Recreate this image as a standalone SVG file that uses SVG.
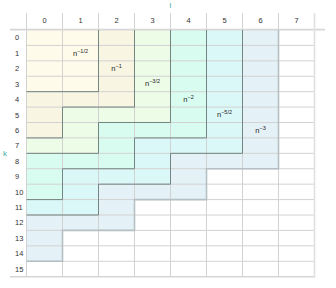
<svg xmlns="http://www.w3.org/2000/svg" width="336" height="288" viewBox="0 0 336 288">
<style>
.lab{font-family:"Liberation Sans",Arial,sans-serif;font-size:7.5px;fill:#333;text-anchor:middle}
.rl{font-family:"Liberation Sans",Arial,sans-serif;font-size:7.5px;fill:#333;text-anchor:start}
.ax{font-family:"Liberation Sans",Arial,sans-serif;font-size:8px;fill:#3fa8a0;text-anchor:middle}
.reg{font-family:"Liberation Sans",Arial,sans-serif;font-size:7.5px;fill:#222;text-anchor:middle}
.sup{font-size:5.5px}
.grid{stroke:#d2d2d2;stroke-width:1;fill:none}
.bd{stroke:#748582;stroke-width:1;fill:none}
.bdf{stroke:#b4c0c4;stroke-width:1.6;fill:none}
</style>
<rect width="336" height="288" fill="#fff"/>
<g id="regions">
<g id="rF"><polygon points="26.5,30 278.5,30 278.5,168.75 206.5,168.75 206.5,199.58 134.5,199.58 134.5,230.42 62.5,230.42 62.5,261.25 26.5,261.25" fill="#e4f1f6"/></g>
<g id="rE"><polygon points="26.5,30 242.5,30 242.5,153.33 170.5,153.33 170.5,184.17 98.5,184.17 98.5,215 26.5,215" fill="#dbf8f8"/></g>
<g id="rD"><polygon points="26.5,30 206.5,30 206.5,137.92 134.5,137.92 134.5,168.75 62.5,168.75 62.5,199.58 26.5,199.58" fill="#d9fcf0"/></g>
<g id="rC"><polygon points="26.5,30 170.5,30 170.5,122.5 98.5,122.5 98.5,153.33 26.5,153.33" fill="#ecfce7"/></g>
<g id="rB"><polygon points="26.5,30 134.5,30 134.5,107.08 62.5,107.08 62.5,137.92 26.5,137.92" fill="#f8f5e2"/></g>
<g id="rA"><rect x="26.5" y="30" width="72" height="61.67" fill="#fffbea"/></g>
</g>
<g id="grid">
<path class="grid" d="M26.5,13.3V276.7M62.5,13.3V276.7M98.5,13.3V276.7M134.5,13.3V276.7M170.5,13.3V276.7M206.5,13.3V276.7M242.5,13.3V276.7M278.5,13.3V276.7"/>
<path class="grid" d="M26.5,45.42H314.5M26.5,60.83H314.5M26.5,76.25H314.5M26.5,91.67H314.5M26.5,107.08H314.5M26.5,122.5H314.5M26.5,137.92H314.5M26.5,153.33H314.5M26.5,168.75H314.5M26.5,184.17H314.5M26.5,199.58H314.5M26.5,215H314.5M26.5,230.42H314.5M26.5,245.83H314.5M26.5,261.25H314.5"/>
<path d="M10,29.6H325" stroke="#d6d6d6" stroke-width="1.6" fill="none"/>
<path d="M10,276.7H314.5" stroke="#d6d6d6" stroke-width="1.4" fill="none"/>
<path d="M314.5,13.3V277.4" stroke="#e0e0e0" stroke-width="1.6" fill="none"/>
</g>
<g id="connectors">
<polyline class="bdf" points="278.5,30 278.5,168.75 206.5,168.75 206.5,199.58 134.5,199.58 134.5,230.42 62.5,230.42 62.5,261.25 26.5,261.25"/>
<polyline class="bd" points="242.5,30 242.5,153.33 170.5,153.33 170.5,184.17 98.5,184.17 98.5,215 26.5,215"/>
<polyline class="bd" points="206.5,30 206.5,137.92 134.5,137.92 134.5,168.75 62.5,168.75 62.5,199.58 26.5,199.58"/>
<polyline class="bd" points="170.5,30 170.5,122.5 98.5,122.5 98.5,153.33 26.5,153.33"/>
<polyline class="bd" points="134.5,30 134.5,107.08 62.5,107.08 62.5,137.92 26.5,137.92"/>
<polyline class="bd" points="98.5,30 98.5,91.67 26.5,91.67"/>
</g>
<g id="colheaders">
<text class="lab" x="44.5" y="23.3">0</text>
<text class="lab" x="80.5" y="23.3">1</text>
<text class="lab" x="116.5" y="23.3">2</text>
<text class="lab" x="152.5" y="23.3">3</text>
<text class="lab" x="188.5" y="23.3">4</text>
<text class="lab" x="224.5" y="23.3">5</text>
<text class="lab" x="260.5" y="23.3">6</text>
<text class="lab" x="296.5" y="23.3">7</text>
</g>
<g id="rowheaders">
<text class="rl" x="15" y="40.4">0</text>
<text class="rl" x="15" y="55.8">1</text>
<text class="rl" x="15" y="71.2">2</text>
<text class="rl" x="15" y="86.7">3</text>
<text class="rl" x="15" y="102.1">4</text>
<text class="rl" x="15" y="117.5">5</text>
<text class="rl" x="15" y="132.9">6</text>
<text class="rl" x="15" y="148.3">7</text>
<text class="rl" x="15" y="163.8">8</text>
<text class="rl" x="15" y="179.2">9</text>
<text class="rl" x="15" y="194.6">10</text>
<text class="rl" x="15" y="210">11</text>
<text class="rl" x="15" y="225.4">12</text>
<text class="rl" x="15" y="240.8">13</text>
<text class="rl" x="15" y="256.3">14</text>
<text class="rl" x="15" y="271.7">15</text>
</g>
<g id="axes">
<text class="ax" x="170.5" y="8">l</text>
<text class="ax" x="5" y="156">k</text>
</g>
<g id="labels">
<text class="reg" x="80.5" y="55.6">n<tspan class="sup" dy="-3">−1/2</tspan></text>
<text class="reg" x="116.5" y="71">n<tspan class="sup" dy="-3">−1</tspan></text>
<text class="reg" x="152.5" y="86.4">n<tspan class="sup" dy="-3">−3/2</tspan></text>
<text class="reg" x="188.5" y="101.9">n<tspan class="sup" dy="-3">−2</tspan></text>
<text class="reg" x="224.5" y="117.3">n<tspan class="sup" dy="-3">−5/2</tspan></text>
<text class="reg" x="260.5" y="132.7">n<tspan class="sup" dy="-3">−3</tspan></text>
</g>
</svg>
